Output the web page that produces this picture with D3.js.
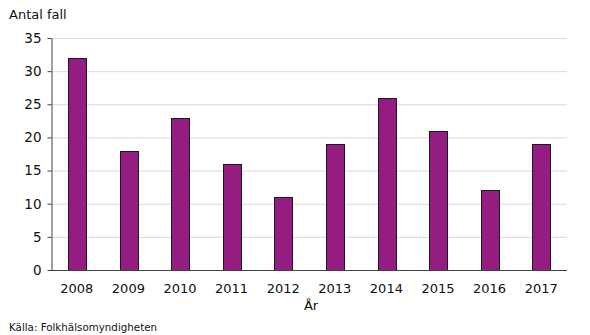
<!DOCTYPE html>
<html><head><meta charset="utf-8">
<script src="https://cdn.jsdelivr.net/npm/d3@7"></script>
<style>body{margin:0;background:#fff}svg{display:block}text{font-family:"DejaVu Sans",Verdana,sans-serif;fill:#111}</style>
</head><body><svg id="c" width="590" height="335"></svg>
<script>
const years = ["2008","2009","2010","2011","2012","2013","2014","2015","2016","2017"];
const cases = [32,18,23,16,11,19,26,21,12,19];
const yTicks = [0,5,10,15,20,25,30,35];

const svg = d3.select("#c");
const m = {l:51, r:567, t:38, b:270};
const x = d3.scaleBand().domain(years).range([m.l, m.r]).paddingInner(0.66).paddingOuter(0.33);
const y = d3.scaleLinear().domain([0,35]).range([m.b, m.t]);

svg.append("g").selectAll("line").data(yTicks.filter(d=>d>0)).join("line")
  .attr("x1", m.l).attr("x2", m.r).attr("y1", d=>y(d)+0.5).attr("y2", d=>y(d)+0.5)
  .attr("stroke", "#d9d9d9").attr("stroke-width", 1);

svg.append("g").selectAll("rect").data(cases).join("rect")
  .attr("x", (d,i)=>Math.round(x(years[i]))+0.5).attr("width", Math.round(x.bandwidth()))
  .attr("y", d=>Math.round(y(d))+0.5).attr("height", d=>Math.round(y(0))-Math.round(y(d)))
  .attr("fill", "#951c80").attr("stroke", "#1a1a1a").attr("stroke-width", 1);

const ya = svg.append("g").attr("transform", `translate(${m.l+0.5},0)`)
  .call(d3.axisLeft(y).tickValues(yTicks).tickSize(4).tickSizeOuter(0).tickPadding(6));
ya.select(".domain").attr("stroke", "#404040");
ya.selectAll(".tick line").attr("stroke", "#404040");
ya.selectAll("text").style("font-size","13.5px").attr("fill","#111");

const xa = svg.append("g").attr("transform", `translate(0,${m.b+0.5})`)
  .call(d3.axisBottom(x).tickSize(0).tickSizeOuter(0).tickPadding(13));
xa.select(".domain").attr("stroke", "#404040").attr("d", `M${m.l},0H${m.r}`);
xa.selectAll("text").style("font-size","13px").attr("fill","#111");

svg.append("text").attr("x", 9).attr("y", 19).style("font-size","13px").text("Antal fall");
svg.append("text").attr("x", 311).attr("y", 310).attr("text-anchor","middle").style("font-size","13px").text("År");
svg.append("text").attr("x", 9).attr("y", 331).style("font-size","10.3px").text("Källa:  Folkhälsomyndigheten");
</script></body></html>
